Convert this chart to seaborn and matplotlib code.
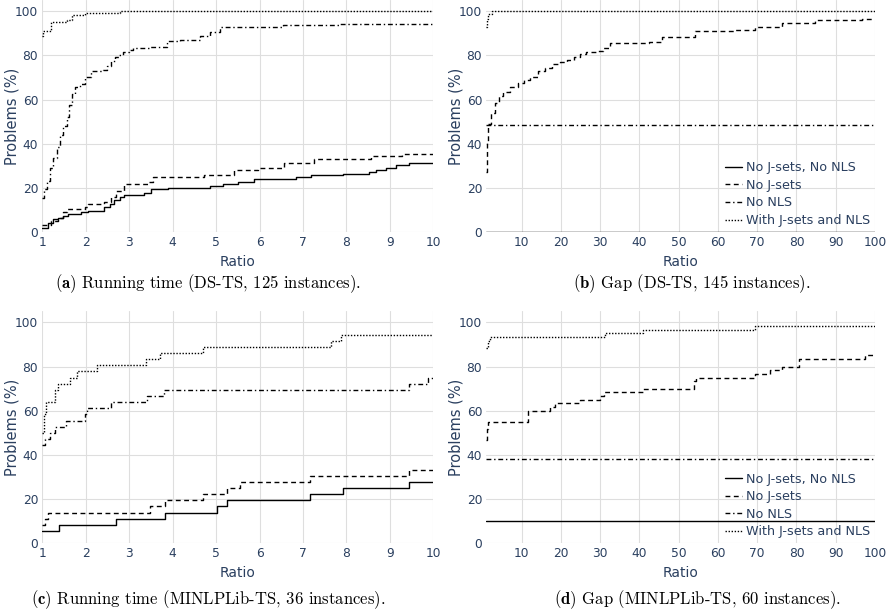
import matplotlib
matplotlib.use('Agg')
import matplotlib.pyplot as plt
import seaborn as sns

series_names = ['No J-sets, No NLS', 'No J-sets', 'No NLS', 'With J-sets and NLS']

# (a) running time, DS-TS
a_base_x = [1.0, 1.13, 1.25, 1.36, 1.48, 1.59, 1.90, 2.05, 2.43, 2.55, 2.66, 2.78, 2.89, 3.35, 3.51,
            3.89, 4.85, 5.15, 5.50, 5.88, 6.84, 7.18, 7.91, 8.53, 8.68, 8.91, 9.14, 9.45, 10]
a_base_y = [1.6, 4.0, 5.6, 6.4, 7.2, 8.0, 8.8, 9.6, 11.2, 12.8, 14.4, 16.0, 16.8, 17.6, 19.2,
            20.0, 20.8, 21.6, 22.4, 24.0, 24.8, 25.6, 26.4, 27.2, 28.0, 28.8, 30.4, 31.2, 31.2]
a_nojs_x = [1.0, 1.21, 1.36, 1.48, 1.56, 1.98, 2.05, 2.43, 2.59, 2.70, 2.89, 3.43, 3.54, 4.73,
            5.42, 5.96, 6.57, 7.26, 8.56, 9.29, 10]
a_nojs_y = [3.2, 4.8, 6.4, 8.8, 10.4, 11.2, 12.8, 13.6, 16.0, 18.4, 21.6, 22.4, 24.8, 25.6,
            28.0, 28.8, 31.2, 32.8, 34.4, 35.2, 35.2]
a_nonls_x = [1.0, 1.05, 1.1, 1.18, 1.25, 1.33, 1.41, 1.48, 1.56, 1.62, 1.68, 1.75, 1.87, 1.98,
             2.13, 2.40, 2.48, 2.58, 2.67, 2.76, 2.86, 3.0, 3.09, 3.48, 3.86, 4.17, 4.63, 4.85,
             5.08, 6.54, 7.85, 10]
a_nonls_y = [15.2, 19.2, 23.2, 28.8, 33.6, 38.4, 44.0, 48.0, 52.0, 57.6, 62.4, 65.6, 67.2, 70.4,
             72.8, 73.6, 75.2, 77.6, 79.2, 80.0, 81.6, 82.4, 83.2, 84.0, 86.4, 87.2, 88.8, 90.4,
             92.8, 93.6, 94.4, 94.4]
a_all_x = [1.0, 1.02, 1.19, 1.57, 1.69, 1.98, 2.8, 10]
a_all_y = [88.8, 91.2, 95.2, 96.0, 98.4, 99.2, 100, 100]

# (b) gap, DS-TS
b_base_x = [1, 100]
b_base_y = [0, 0]
b_nojs_x = [1.0, 1.05, 1.5, 2.2, 3.2, 4.2, 5.3, 7.0, 9.1, 10.5, 12.1, 14.2, 15.9, 17.6, 19.8,
            21.5, 23.2, 24.9, 26.5, 29.1, 30.8, 32.5, 42.3, 45.7, 54.2, 64.4, 69.5, 76.3, 84.8,
            96.7, 100]
b_nojs_y = [26.9, 40.7, 49.0, 53.8, 58.6, 61.4, 63.4, 65.5, 67.6, 69.0, 70.3, 73.1, 74.5, 75.9,
            77.2, 77.9, 79.3, 80.7, 81.4, 82.1, 83.4, 85.5, 86.2, 88.3, 91.0, 91.7, 93.1, 94.5,
            95.9, 96.6, 96.6]
b_nonls_x = [1, 100]
b_nonls_y = [48.3, 48.3]
b_all_x = [1.0, 1.15, 1.4, 2.35, 100]
b_all_y = [93.1, 96.6, 98.6, 100, 100]

# (c) running time, MINLPLib-TS
c_base_x = [1.0, 1.39, 2.69, 3.82, 5.02, 5.24, 7.17, 7.93, 9.44, 10]
c_base_y = [5.56, 8.33, 11.11, 13.89, 16.67, 19.44, 22.22, 25.0, 27.78, 27.78]
c_nojs_x = [1.0, 1.06, 1.14, 3.49, 3.82, 4.70, 5.24, 5.54, 7.17, 9.44, 10]
c_nojs_y = [8.33, 11.11, 13.89, 16.67, 19.44, 22.22, 25.0, 27.78, 30.56, 33.33, 33.33]
c_nonls_x = [1.0, 1.06, 1.18, 1.29, 1.54, 1.98, 2.02, 2.59, 3.42, 3.80, 9.44, 9.87, 10]
c_nonls_y = [44.44, 47.22, 50.0, 52.78, 55.56, 58.33, 61.11, 63.89, 66.67, 69.44, 72.22, 75.0, 75.0]
c_all_x = [1.0, 1.04, 1.08, 1.29, 1.37, 1.64, 1.81, 2.25, 3.38, 3.72, 4.69, 7.65, 7.87, 10]
c_all_y = [50.0, 58.33, 63.89, 69.44, 72.22, 75.0, 77.78, 80.56, 83.33, 86.11, 88.89, 91.67,
           94.44, 94.44]

# (d) gap, MINLPLib-TS
d_base_x = [1, 100]
d_base_y = [10, 10]
d_nojs_x = [1.0, 1.2, 1.5, 11.5, 17.2, 18.5, 24.9, 30.0, 30.9, 40.9, 53.9, 54.5, 69.5, 73.3,
            76.3, 80.6, 97.4, 100]
d_nojs_y = [46.67, 51.67, 55.0, 60.0, 61.67, 63.33, 65.0, 66.67, 68.33, 70.0, 73.33, 75.0,
            76.67, 78.33, 80.0, 83.33, 85.0, 85.0]
d_nonls_x = [1, 100]
d_nonls_y = [38.33, 38.33]
d_all_x = [1.0, 1.3, 1.92, 31.1, 40.9, 69.5, 100]
d_all_y = [88.33, 91.67, 93.33, 95.0, 96.67, 98.33, 98.33]

captions = [r'$\mathbf{(a)}$ Running time (DS-TS, 125 instances).',
            r'$\mathbf{(b)}$ Gap (DS-TS, 145 instances).',
            r'$\mathbf{(c)}$ Running time (MINLPLib-TS, 36 instances).',
            r'$\mathbf{(d)}$ Gap (MINLPLib-TS, 60 instances).']

sns.set_theme(style='white')
plt.rcParams['font.family'] = ['DejaVu Sans']
plt.rcParams['mathtext.fontset'] = 'cm'

txt = '#2a3f5f'
line_styles = ['-', (0, (3.5, 2.5)), (0, (3.5, 2, 1, 2)), (0, (1, 1.2))]

W, H = 890, 611
fig = plt.figure(figsize=(8.9, 6.11), dpi=100)


def add_ax(left, right, top, bottom):
    return fig.add_axes([left / W, 1 - bottom / H, (right - left) / W, (bottom - top) / H])


panels = [
    (add_ax(42.3, 433.3, 0.3, 231.8), [(a_base_x, a_base_y), (a_nojs_x, a_nojs_y), (a_nonls_x, a_nonls_y), (a_all_x, a_all_y)], 10),
    (add_ax(486.4, 875, 0.3, 231.8), [(b_base_x, b_base_y), (b_nojs_x, b_nojs_y), (b_nonls_x, b_nonls_y), (b_all_x, b_all_y)], 100),
    (add_ax(42.3, 433.3, 311.3, 543.3), [(c_base_x, c_base_y), (c_nojs_x, c_nojs_y), (c_nonls_x, c_nonls_y), (c_all_x, c_all_y)], 10),
    (add_ax(486.4, 875, 311.3, 543.3), [(d_base_x, d_base_y), (d_nojs_x, d_nojs_y), (d_nonls_x, d_nonls_y), (d_all_x, d_all_y)], 100),
]

for i, (ax, data, xmax) in enumerate(panels):
    for (xs, ys), name, ls in zip(data, series_names, line_styles):
        sns.lineplot(x=xs, y=ys, ax=ax, color='black', linewidth=1.0, linestyle=ls,
                     drawstyle='steps-post', estimator=None, label=name)
    ax.set_xlim(1, xmax)
    ax.set_ylim(0, 105)
    ax.set_yticks([0, 20, 40, 60, 80, 100])
    if xmax == 10:
        ax.set_xticks(range(1, 11))
    else:
        ax.set_xticks(range(10, 101, 10))
    ax.grid(True, color='#dedede', linewidth=0.8)
    ax.set_axisbelow(True)
    for s in ax.spines.values():
        s.set_visible(False)
    ax.tick_params(length=0, labelsize=8.8, colors=txt, pad=3)
    ax.set_xlabel('Ratio', color=txt, fontsize=10, labelpad=4)
    ax.set_ylabel('Problems (%)', color=txt, fontsize=10.5)
    ax.yaxis.set_label_coords(-0.058, 0.5)
    if i % 2 == 1:
        leg = ax.legend(loc='upper left', bbox_to_anchor=(0.615, 0.305), frameon=False,
                        fontsize=9.2, handlelength=1.3, handletextpad=0.3,
                        labelspacing=0.36, borderpad=0, borderaxespad=0)
        for t in leg.get_texts():
            t.set_color(txt)
    else:
        ax.get_legend().remove()

cap_pos = [(208, 284), (692, 284), (208, 600), (698, 600)]
for (cx, cy), cap in zip(cap_pos, captions):
    fig.text(cx / W, 1 - cy / H, cap, family='cmr10', fontsize=12, color='black',
             ha='center', va='center')

fig.savefig('out.png', dpi=100)
